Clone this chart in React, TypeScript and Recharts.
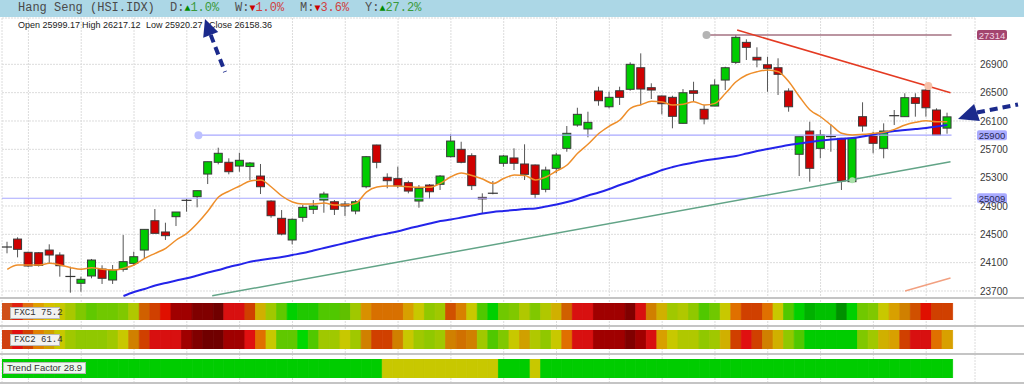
import React from "react";
import {
  ComposedChart,
  BarChart,
  Bar,
  Line,
  XAxis,
  YAxis,
  CartesianGrid,
  ReferenceLine,
  ReferenceDot,
  Cell,
} from "recharts";

// daily candles, oldest first
const opens = [
  24321, 24433, 24246, 24240, 24278, 24208, 23905, 23809, 23912, 24010,
  23855, 24006, 24090, 24278, 24692, 24533, 24749, 24980, 25031, 25351,
  25517, 25517, 25464, 25457, 25323, 24970, 24726, 24420, 24740, 24853,
  24984, 24960, 24928, 24829, 25172, 25761, 25305, 25286, 25229, 24970,
  25196, 25206, 25596, 25700, 25610, 25022, 25080, 25503, 25578, 25493,
  25479, 25135, 25432, 25714, 26043, 25987, 26523, 26301, 26527, 26547,
  26852, 26570, 26453, 26434, 26067, 26527, 26265, 26311, 26678, 26928,
  27210, 26999, 26894, 26852, 26523, 25630, 25958, 25714, 25880, 25855,
  25243, 26161, 25888, 25714, 26175, 26161, 26429, 26537, 26255, 25999.17,
];
const highs = [
  24395, 24458, 24255, 24250, 24359, 24246, 24043, 23902, 24152, 24063,
  24067, 24490, 24255, 24570, 24857, 24664, 24815, 25000, 25116, 25525,
  25723, 25573, 25652, 25520, 25493, 24980, 24843, 24726, 24914, 24984,
  25101, 24984, 24970, 24984, 25606, 25765, 25361, 25455, 25257, 25196,
  25210, 25337, 25912, 25807, 25644, 25079, 25253, 25620, 25714, 25771,
  25485, 25455, 25652, 26029, 26287, 26231, 26584, 26513, 26584, 26928,
  27055, 26632, 26460, 26457, 26551, 26654, 26326, 26688, 26866, 27314,
  27253, 27140, 27007, 26985, 26561, 25878, 26090, 25973, 26053, 25860,
  25870, 26364, 25949, 26067, 26255, 26491, 26491, 26608, 26279, 26217.12,
];
const lows = [
  24232, 24175, 24040, 24045, 24090, 23902, 23676, 23690, 23879, 23799,
  23799, 23973, 24053, 24161, 24514, 24420, 24617, 24820, 24881, 25210,
  25488, 25347, 25384, 25267, 25069, 24735, 24486, 24359, 24678, 24787,
  24805, 24773, 24759, 24783, 25150, 25432, 25150, 25150, 25079, 24876,
  25000, 25126, 25587, 25503, 25126, 24797, 25065, 25455, 25408, 25267,
  25008, 25093, 25361, 25666, 26019, 25870, 26316, 26279, 26326, 26527,
  26326, 26410, 26194, 25997, 26063, 26372, 26053, 26311, 26537, 26904,
  26961, 26858, 26513, 26467, 26231, 25323, 25243, 25573, 25666, 25126,
  25243, 25949, 25644, 25573, 26043, 26161, 26161, 26161, 25902, 25920.27,
];
const closes = [
  24321, 24288, 24053, 24060, 24208, 24057, 23902, 23865, 24137, 23879,
  23996, 24114, 24184, 24570, 24514, 24481, 24815, 24984, 25116, 25525,
  25644, 25384, 25545, 25507, 25172, 24763, 24504, 24712, 24881, 24900,
  25069, 24853, 24900, 24960, 25596, 25517, 25257, 25187, 25111, 25150,
  25101, 25323, 25817, 25517, 25187, 25000, 25090, 25606, 25503, 25347,
  25065, 25408, 25620, 25926, 26194, 26081, 26386, 26434, 26434, 26900,
  26551, 26537, 26344, 26166, 26499, 26491, 26128, 26608, 26852, 27281,
  27140, 26961, 26844, 26759, 26301, 25878, 25432, 25902, 25870, 25253,
  25855, 26029, 25785, 25958, 26175, 26429, 26349, 26287, 25902, 26158.36,
];

// orange (short) and blue (long) moving averages
const maFast = [
  24006, 24067, 24067, 24067, 24091, 24067, 24029, 24006, 24029, 24006,
  23996, 24020, 24067, 24161, 24232, 24303, 24420, 24514, 24656, 24829,
  25027, 25111, 25182, 25253, 25267, 25168, 25041, 24956, 24928, 24928,
  24942, 24914, 24914, 24938, 25097, 25168, 25182, 25182, 25172, 25164,
  25164, 25220, 25313, 25366, 25330, 25281, 25217, 25288, 25337, 25330,
  25267, 25309, 25394, 25479, 25644, 25775, 25923, 26029, 26114, 26279,
  26330, 26378, 26368, 26325, 26335, 26372, 26325, 26349, 26491, 26654,
  26749, 26796, 26820, 26796, 26654, 26443, 26255, 26160, 26043, 25926,
  25902, 25912, 25926, 25940, 25982, 26043, 26081, 26104, 26090, 26090,
];
const maSlow = [
  null, null, null, null, null, null, null, null, null, null, null,
  23629, 23686, 23728, 23778, 23813, 23848, 23879, 23919, 23961, 23996,
  24039, 24074, 24113, 24137, 24159, 24180, 24208, 24236, 24272, 24307,
  24342, 24377, 24413, 24448, 24483, 24512, 24544, 24582, 24617, 24653,
  24688, 24709, 24737, 24766, 24794, 24815, 24829, 24843, 24857, 24864,
  24893, 24921, 24956, 24999, 25048, 25090, 25140, 25196, 25246, 25302,
  25351, 25408, 25450, 25486, 25514, 25542, 25563, 25584, 25606, 25641,
  25676, 25704, 25733, 25761, 25782, 25803, 25824, 25838, 25850, 25860,
  25881, 25909, 25937, 25958, 25973, 25987, 26001, 26022, 26043,
];

const fxc1 = [
  "#d0501a", "#e02010", "#e07010", "#e0a000", "#d8c000", "#c8c800", "#a8c800", "#80c800", "#60c800", "#70c800",
  "#70c800", "#80c800", "#b0c800", "#d06000", "#d04000", "#e01000", "#a00000", "#a00000", "#800000", "#800000",
  "#700000", "#d81010", "#d81010", "#d04000", "#d0b000", "#a0c800", "#60c800", "#00d000", "#20c800", "#20c800",
  "#50c800", "#50c800", "#60c000", "#a0c800", "#d89000", "#d87000", "#d87000", "#d87000", "#d8a000", "#c8c800",
  "#90c800", "#a0c800", "#d05000", "#d88000", "#c8c800", "#50c800", "#00d000", "#70c800", "#80c800", "#b0c800",
  "#80c800", "#b0c800", "#d0b000", "#d06000", "#d81010", "#d81010", "#a00000", "#a00000", "#a00000", "#800000",
  "#d81010", "#d08000", "#d0b000", "#a0c800", "#b0c800", "#90c800", "#50c800", "#70c800", "#c8c800", "#e07000",
  "#d04000", "#d04000", "#e07000", "#c8c800", "#50c800", "#00d000", "#00b000", "#00c000", "#00c000", "#009000",
  "#00d000", "#70c800", "#80c800", "#c8c800", "#d8a000", "#d08000", "#d05000", "#e01000", "#d04000", "#d04000",
];
const fxc2 = [
  "#d04010", "#e01010", "#d04000", "#e08000", "#d0a000", "#c8c800", "#a0c800", "#90c800", "#90c800", "#90c800",
  "#a0c800", "#c8c800", "#d08000", "#d04000", "#d81010", "#d81010", "#d81010", "#a00000", "#800000", "#700000",
  "#700000", "#a00000", "#a00000", "#e01010", "#e07000", "#c8c800", "#60c800", "#60c800", "#00d800", "#50c800",
  "#a0c800", "#a0c800", "#c8c800", "#a0c800", "#d08000", "#d04000", "#d04000", "#d08000", "#c8c800", "#a0c800",
  "#90c800", "#a0c800", "#d08000", "#d07000", "#d08000", "#a0c800", "#50c800", "#80c800", "#c8c800", "#d0a000",
  "#b0c800", "#90c800", "#c8c800", "#e07000", "#d81010", "#d81010", "#a00000", "#a00000", "#a00000", "#800000",
  "#a00000", "#d81010", "#d8a000", "#c8c800", "#b0c800", "#b0c800", "#90c800", "#a0c800", "#d0b000", "#d04000",
  "#e01010", "#d04000", "#d08000", "#d0b000", "#90c800", "#50c800", "#00cc00", "#00cc00", "#00cc00", "#00cc00",
  "#00cc00", "#80c800", "#a0c800", "#d0b000", "#d8a000", "#d04000", "#d81010", "#d81010", "#e07000", "#d8a000",
];
const G = "#00cc00";
const Y = "#c8c800";
const trend = [
  G, G, G, G, G, G, G, G, G, G,
  G, G, G, G, G, G, G, G, G, G,
  G, G, G, G, G, G, G, G, G, G,
  G, G, G, G, G, G, Y, Y, Y, Y,
  Y, Y, Y, Y, Y, Y, Y, G, G, G,
  Y, G, G, G, G, G, G, G, G, G,
  G, G, G, G, G, G, G, G, G, G,
  G, G, G, G, G, G, G, G, G, G,
  G, G, G, G, G, G, G, G, G, G,
];

const priceTicks = [23700, 24100, 24500, 24900, 25300, 25700, 26100, 26500, 26900];
const gridIdx = [2, 7, 12, 17, 22, 27, 32, 37, 42, 47, 52, 57, 62, 67, 72, 77, 82, 87];

const resistance = 27314;
const support1 = 25900;
const support2 = 25009;

const rows = opens.map((o, i) => ({
  i,
  open: o,
  high: highs[i],
  low: lows[i],
  close: closes[i],
  fast: maFast[i],
  slow: maSlow[i],
}));

const X_DOMAIN = [-0.5, 91.62];

const Candle = (props: any) => {
  const { x, y, width, height, payload } = props;
  if (!payload) return null;
  const { open, close, high, low } = payload;
  const top = Math.min(y, y + height);
  const h = Math.abs(height);
  const k = high === low ? 0 : h / (high - low);
  const cx = x + width / 2;
  const yo = top + (high - open) * k;
  const yc = top + (high - close) * k;
  const flat = Math.abs(close - open) < 15;
  return (
    <g>
      <line x1={cx} x2={cx} y1={top} y2={top + h} stroke="#555" strokeWidth={1} />
      {flat ? (
        <line x1={x - 1} x2={x + width + 1} y1={yo} y2={yo} stroke="#333" strokeWidth={1.2} />
      ) : (
        <rect
          x={x}
          y={Math.min(yo, yc)}
          width={width}
          height={Math.max(1, Math.abs(yc - yo))}
          fill={close > open ? "#00cc00" : "#d00000"}
          stroke="#3a3a3a"
          strokeWidth={1}
        />
      )}
    </g>
  );
};

const TagLabel = ({ viewBox, text, bg, fg }: any) => {
  if (!viewBox) return null;
  const x = viewBox.x + viewBox.width + 2;
  const y = viewBox.y;
  return (
    <g>
      <rect x={x} y={y - 5} width={30} height={10} rx={2} fill={bg} />
      <text x={x + 15} y={y + 3.5} textAnchor="middle" fontSize={9.5} fill={fg} fontFamily="Liberation Sans, Arial">
        {text}
      </text>
    </g>
  );
};

const Strip = ({ colors, top, height }: { colors: string[]; top: number; height: number }) => {
  const data = colors.map((c, i) => ({ i, v: 1 }));
  return (
    <div style={{ position: "absolute", left: 0, top }}>
      <BarChart width={1024} height={height} data={data} margin={{ top: 0, right: 49, bottom: 0, left: 2 }}>
        <XAxis type="number" dataKey="i" domain={X_DOMAIN} hide allowDataOverflow />
        <YAxis domain={[0, 1]} hide />
        <Bar dataKey="v" barSize={10.56} isAnimationActive={false}>
          {colors.map((c, i) => (
            <Cell key={i} fill={c} stroke={c} strokeWidth={0.8} />
          ))}
        </Bar>
      </BarChart>
    </div>
  );
};

const Sep = ({ top }: { top: number }) => (
  <div style={{ position: "absolute", left: 0, top, width: 1024, height: 2, background: "#c4c4c4" }} />
);

const StripTag = ({ left, top, width, text, mono, bg }: any) => (
  <div
    style={{
      position: "absolute",
      left,
      top,
      width,
      height: 10,
      lineHeight: "10px",
      fontSize: mono ? 9 : 9.5,
      fontFamily: mono ? "Liberation Mono, monospace" : "Liberation Sans, Arial",
      color: "#333",
      background: bg,
      border: "1px solid #b8b8b8",
      paddingLeft: 3,
      boxSizing: "content-box",
      whiteSpace: "pre",
    }}
  >
    {text}
  </div>
);

const Chg = ({ left, label, up, value }: any) => (
  <span style={{ position: "absolute", left, top: 0, whiteSpace: "pre" }}>
    <span style={{ color: "#505050" }}>{label}:</span>
    <span style={{ color: up ? "#008a00" : "#cc0000", fontSize: 10 }}>{up ? "▲" : "▼"}</span>
    <span style={{ color: up ? "#3a9a3a" : "#d04040" }}>{value}</span>
  </span>
);

export default function App() {
  return (
    <div
      style={{
        position: "relative",
        width: 1024,
        height: 384,
        background: "#fff",
        overflow: "hidden",
        fontFamily: "Liberation Sans, Arial, sans-serif",
      }}
    >
      <style>{"body{margin:0}"}</style>
      <div style={{ position: "absolute", left: 0, top: 0 }}>
        <ComposedChart width={1024} height={384} data={rows} margin={{ top: 18, right: 0, bottom: 0, left: 2 }}>
          <CartesianGrid stroke="#dcdcdc" strokeDasharray="2 1" />
          <XAxis type="number" dataKey="i" domain={X_DOMAIN} ticks={gridIdx} hide allowDataOverflow />
          <YAxis
            orientation="right"
            width={49}
            domain={[22387, 27554]}
            ticks={priceTicks}
            allowDataOverflow
            axisLine={false}
            tickLine={false}
            tickSize={3}
            tickMargin={2}
            tick={{ fontSize: 10, fill: "#3a3a3a", fontFamily: "Liberation Sans, Arial" }}
          />
          <ReferenceLine
            segment={[{ x: -0.5, y: support2 }, { x: 89.4, y: support2 }]}
            stroke="#a8a8ff"
            strokeWidth={1.2}
          />
          <ReferenceLine
            segment={[{ x: 18.1, y: support1 }, { x: 89.4, y: support1 }]}
            stroke="#a8a8ff"
            strokeWidth={1.2}
          />
          <ReferenceLine
            segment={[{ x: 66.2, y: resistance }, { x: 89.4, y: resistance }]}
            stroke="#a47282"
            strokeWidth={1.5}
          />
          <ReferenceLine
            segment={[{ x: 19.4, y: 23632 }, { x: 89.3, y: 25525 }]}
            stroke="#62a487"
            strokeWidth={1.5}
          />
          <ReferenceLine
            segment={[{ x: 69.1, y: 27384 }, { x: 89.3, y: 26499 }]}
            stroke="#e43a22"
            strokeWidth={1.5}
          />
          <ReferenceLine
            segment={[{ x: 85.0, y: 23700 }, { x: 89.3, y: 23883 }]}
            stroke="#f2a080"
            strokeWidth={1.5}
          />
          <ReferenceDot x={66.2} y={resistance} r={4} fill="#b4b4b4" stroke="none" />
          <ReferenceDot x={18.1} y={support1} r={4} fill="#bcc0ff" stroke="none" />
          <ReferenceDot x={87.2} y={26594} r={4} fill="#f6c0a8" stroke="none" />
          <ReferenceDot x={80} y={25262} r={3} fill="#a8e0a8" stroke="none" />
          <Line
            dataKey="slow"
            type="monotone"
            stroke="#2424ea"
            strokeWidth={2}
            dot={false}
            isAnimationActive={false}
          />
          <Bar dataKey={(d: any) => [d.low, d.high]} shape={Candle} barSize={8} isAnimationActive={false} />
          <Line
            dataKey="fast"
            type="monotone"
            stroke="#ee8e2a"
            strokeWidth={1.5}
            dot={false}
            isAnimationActive={false}
          />
          <ReferenceLine
            y={resistance}
            stroke="none"
            label={<TagLabel text={String(resistance)} bg="#a3456e" fg="#f3d4e2" />}
          />
          <ReferenceLine
            y={support1}
            stroke="none"
            label={<TagLabel text={String(support1)} bg="#a9abff" fg="#2a2a55" />}
          />
          <ReferenceLine
            y={support2}
            stroke="none"
            label={<TagLabel text={String(support2)} bg="#a9abff" fg="#2a2a55" />}
          />
        </ComposedChart>
      </div>

      <Sep top={297} />
      <Strip colors={fxc1} top={303} height={17} />
      <Sep top={325} />
      <Strip colors={fxc2} top={330} height={19} />
      <Sep top={353} />
      <Strip colors={trend} top={359} height={19} />
      <Sep top={382} />

      <StripTag left={10} top={307} width={45} text="FXC1 75.2" mono bg="#f2f2f2" />
      <StripTag left={10} top={334} width={45} text="FXC2 61.4" mono bg="#f2f2f2" />
      <StripTag left={3} top={362} width={78} text="Trend Factor 28.9" bg="#eef8ee" />

      <div
        style={{
          position: "absolute",
          left: 0,
          top: 0,
          width: 1024,
          height: 17,
          background: "#acd7e6",
          fontFamily: "Liberation Mono, DejaVu Sans Mono, monospace",
          fontSize: 12,
          lineHeight: "17px",
        }}
      >
        <span style={{ position: "absolute", left: 18, top: 0, color: "#4a4a4a", whiteSpace: "pre" }}>
          Hang Seng (HSI.IDX)
        </span>
        <Chg left={170} label="D" up value="1.0%" />
        <Chg left={235} label="W" up={false} value="1.0%" />
        <Chg left={300} label="M" up={false} value="3.6%" />
        <Chg left={365} label="Y" up value="27.2%" />
      </div>

      <div style={{ position: "absolute", top: 20, left: 0, fontSize: 9, color: "#222", lineHeight: "11px" }}>
        <span style={{ position: "absolute", left: 18, whiteSpace: "pre" }}>Open {opens[89]}</span>
        <span style={{ position: "absolute", left: 82, whiteSpace: "pre" }}>High {highs[89]}</span>
        <span style={{ position: "absolute", left: 146, whiteSpace: "pre" }}>Low {lows[89]}</span>
        <span style={{ position: "absolute", left: 209, whiteSpace: "pre" }}>Close {closes[89]}</span>
      </div>

      <svg width={1024} height={384} style={{ position: "absolute", left: 0, top: 0, pointerEvents: "none" }}>
        <line x1={210.7} y1={34.9} x2={225} y2={72} stroke="#1b2a8c" strokeWidth={4} strokeDasharray="8 5" />
        <polygon points="205,19 218.2,32 203.2,37.8" fill="#1b2a8c" />
        <line x1={977} y1={112.5} x2={1018} y2={104.5} stroke="#1b2a8c" strokeWidth={4} strokeDasharray="8 5" />
        <polygon points="958,119 979.9,121 974.1,104" fill="#1b2a8c" />
      </svg>
    </div>
  );
}
